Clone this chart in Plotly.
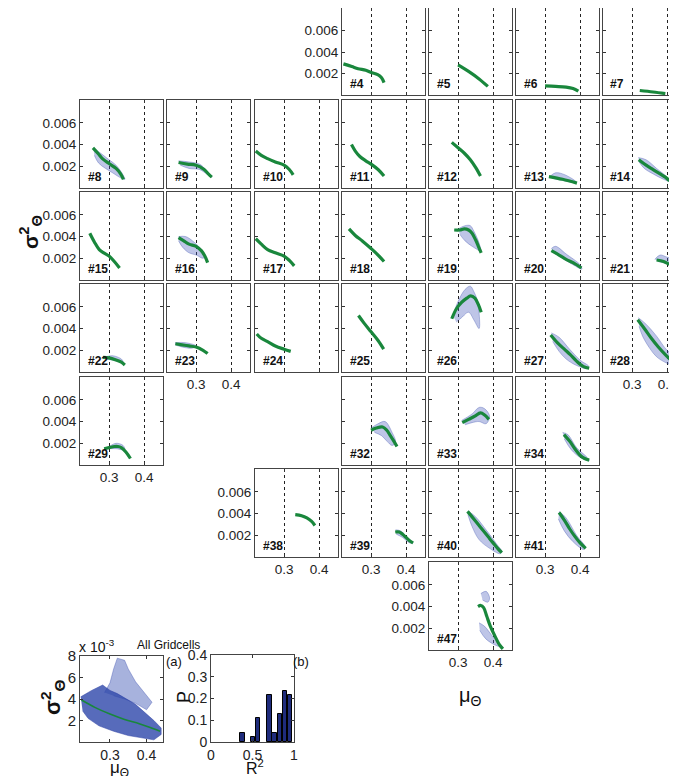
import plotly.graph_objects as go

W, H = 677, 776
OFF = 8                      # page body margin of the html page
FW, FH = W - OFF, H - OFF    # figure size so that it ends at the window edge

# ---------------- data ----------------
# fitted curves: mean (mu) and variance (var) per grid cell
mu4 = [0.221, 0.245, 0.263, 0.285, 0.300, 0.319, 0.330, 0.337]
var4 = [0.0029, 0.00265, 0.00245, 0.0023, 0.0021, 0.0019, 0.0016, 0.00115]
mu5 = [0.300, 0.330, 0.360, 0.385]
var5 = [0.0028, 0.0022, 0.0015, 0.0008]
mu6 = [0.300, 0.330, 0.360, 0.380, 0.395]
var6 = [0.00085, 0.0008, 0.00073, 0.0006, 0.00035]
mu7 = [0.322, 0.360, 0.395]
var7 = [0.00042, 0.00028, 0.00013]
mu8 = [0.254, 0.268, 0.281, 0.300, 0.320, 0.333, 0.341]
var8 = [0.0037, 0.0032, 0.0027, 0.00225, 0.0018, 0.0013, 0.0008]
mu9 = [0.250, 0.275, 0.300, 0.323, 0.335, 0.345]
var9 = [0.00235, 0.0022, 0.0021, 0.0017, 0.0013, 0.001]
mu10 = [0.219, 0.235, 0.253, 0.275, 0.300, 0.315, 0.326]
var10 = [0.0034, 0.003, 0.0027, 0.0024, 0.0021, 0.0017, 0.0012]
mu11 = [0.244, 0.255, 0.268, 0.285, 0.300, 0.320, 0.337]
var11 = [0.004, 0.0034, 0.0029, 0.0025, 0.0022, 0.0017, 0.0011]
mu12 = [0.282, 0.300, 0.318, 0.335, 0.350, 0.364]
var12 = [0.0042, 0.0037, 0.0032, 0.0026, 0.0019, 0.0011]
mu13 = [0.311, 0.350, 0.391]
var13 = [0.00105, 0.0008, 0.00045]
mu14 = [0.319, 0.340, 0.360, 0.380, 0.395, 0.407]
var14 = [0.0026, 0.0021, 0.0017, 0.0013, 0.001, 0.00067]
mu15 = [0.245, 0.258, 0.272, 0.285, 0.300, 0.315, 0.330]
var15 = [0.0043, 0.0035, 0.0028, 0.0025, 0.0022, 0.0017, 0.0011]
mu16 = [0.250, 0.265, 0.280, 0.300, 0.315, 0.325, 0.333]
var16 = [0.0039, 0.0036, 0.0033, 0.0031, 0.0027, 0.0022, 0.0016]
mu17 = [0.219, 0.235, 0.253, 0.275, 0.300, 0.315, 0.329]
var17 = [0.0038, 0.0033, 0.0028, 0.0025, 0.0022, 0.0018, 0.0013]
mu18 = [0.237, 0.255, 0.275, 0.300, 0.320, 0.337]
var18 = [0.0047, 0.0041, 0.0036, 0.0029, 0.0023, 0.0017]
mu19 = [0.289, 0.305, 0.318, 0.330, 0.340, 0.350, 0.358, 0.366]
var19 = [0.0046, 0.0046, 0.0047, 0.0046, 0.0043, 0.0037, 0.0031, 0.0025]
mu20 = [0.318, 0.340, 0.360, 0.380, 0.404]
var20 = [0.0027, 0.0023, 0.0019, 0.0016, 0.0011]
mu21 = [0.370, 0.390, 0.410, 0.435]
var21 = [0.00184, 0.0017, 0.0014, 0.0011]
mu22 = [0.283, 0.300, 0.320, 0.335, 0.345]
var22 = [0.00135, 0.0013, 0.0011, 0.0009, 0.00065]
mu23 = [0.241, 0.260, 0.280, 0.300, 0.320, 0.333]
var23 = [0.0026, 0.0025, 0.0024, 0.0023, 0.0020, 0.0017]
mu24 = [0.222, 0.235, 0.253, 0.275, 0.300, 0.319]
var24 = [0.0035, 0.0031, 0.0028, 0.0024, 0.0021, 0.0019]
mu25 = [0.264, 0.280, 0.300, 0.320, 0.336]
var25 = [0.0052, 0.0045, 0.0037, 0.0029, 0.0021]
mu26 = [0.282, 0.295, 0.310, 0.325, 0.336, 0.348, 0.358, 0.366]
var26 = [0.0049, 0.0058, 0.0064, 0.0068, 0.0070, 0.0068, 0.0062, 0.0055]
mu27 = [0.316, 0.335, 0.355, 0.372, 0.390, 0.410, 0.426]
var27 = [0.0034, 0.0027, 0.0021, 0.0016, 0.0010, 0.0005, 0.00035]
mu28 = [0.316, 0.335, 0.355, 0.375, 0.395, 0.415, 0.435]
var28 = [0.0048, 0.0040, 0.0031, 0.0023, 0.0016, 0.0010, 0.0006]
mu29 = [0.286, 0.300, 0.315, 0.325, 0.335, 0.348, 0.361]
var29 = [0.0015, 0.0016, 0.0017, 0.0017, 0.0016, 0.0012, 0.0006]
mu32 = [0.300, 0.315, 0.333, 0.345, 0.355, 0.365, 0.374]
var32 = [0.0032, 0.0034, 0.0035, 0.0032, 0.0027, 0.0022, 0.0017]
mu33 = [0.312, 0.330, 0.348, 0.364, 0.376, 0.388]
var33 = [0.0039, 0.0042, 0.0045, 0.0048, 0.0046, 0.0042]
mu34 = [0.354, 0.370, 0.385, 0.400, 0.413, 0.426]
var34 = [0.0028, 0.0022, 0.0015, 0.0009, 0.0006, 0.00045]
mu38 = [0.332, 0.350, 0.365, 0.378, 0.388]
var38 = [0.0039, 0.0038, 0.0036, 0.0033, 0.0029]
mu39 = [0.369, 0.380, 0.390, 0.400, 0.410, 0.420]
var39 = [0.0023, 0.0023, 0.0021, 0.0018, 0.0015, 0.0013]
mu40 = [0.327, 0.345, 0.365, 0.385, 0.400, 0.413, 0.425]
var40 = [0.0042, 0.0035, 0.0027, 0.0019, 0.0013, 0.0008, 0.0004]
mu41 = [0.340, 0.355, 0.370, 0.385, 0.400, 0.416]
var41 = [0.0041, 0.0034, 0.0026, 0.0019, 0.0013, 0.0008]
mu47 = [0.357, 0.365, 0.373, 0.382, 0.392, 0.405, 0.418, 0.428]
var47 = [0.0040, 0.0041, 0.0039, 0.0031, 0.0022, 0.0013, 0.0005, 0.0001]

# outlines of the sample clouds (mu, var)
cmu8 = [0.255, 0.28, 0.30, 0.32, 0.34, 0.345, 0.335, 0.31, 0.29, 0.27, 0.258]
cvar8 = [0.0037, 0.0031, 0.0026, 0.0021, 0.0012, 0.0008, 0.0009, 0.0014, 0.0018, 0.0023, 0.0030]
cmu9 = [0.25, 0.28, 0.31, 0.33, 0.345, 0.33, 0.31, 0.28, 0.255]
cvar9 = [0.0025, 0.0024, 0.0022, 0.0016, 0.001, 0.0013, 0.0017, 0.0018, 0.0021]
cmu13 = [0.315, 0.33, 0.35, 0.38, 0.39, 0.35, 0.32]
cvar13 = [0.0011, 0.0014, 0.0013, 0.0008, 0.0005, 0.0007, 0.0009]
cmu14 = [0.318, 0.34, 0.37, 0.40, 0.408, 0.39, 0.36, 0.335, 0.32]
cvar14 = [0.0028, 0.0026, 0.0018, 0.0010, 0.0006, 0.0008, 0.0013, 0.0018, 0.0024]
cmu16 = [0.25, 0.27, 0.29, 0.31, 0.325, 0.32, 0.30, 0.28, 0.262, 0.25]
cvar16 = [0.0040, 0.0040, 0.0036, 0.0030, 0.0022, 0.0020, 0.0023, 0.0025, 0.0030, 0.0036]
cmu19 = [0.30, 0.32, 0.335, 0.345, 0.36, 0.365, 0.355, 0.34, 0.32, 0.305]
cvar19 = [0.0047, 0.0050, 0.0050, 0.0045, 0.0034, 0.0026, 0.0028, 0.0031, 0.0036, 0.0042]
cmu20 = [0.318, 0.33, 0.36, 0.40, 0.405, 0.38, 0.35, 0.325]
cvar20 = [0.0029, 0.0031, 0.0024, 0.0014, 0.0010, 0.0014, 0.0020, 0.0025]
cmu21 = [0.365, 0.38, 0.40, 0.435, 0.435, 0.40, 0.375]
cvar21 = [0.0019, 0.0023, 0.0021, 0.0018, 0.0012, 0.0015, 0.0017]
cmu22 = [0.29, 0.31, 0.335, 0.34, 0.31, 0.29]
cvar22 = [0.0014, 0.0015, 0.0012, 0.0009, 0.0011, 0.0012]
cmu23 = [0.24, 0.27, 0.30, 0.29, 0.26, 0.24]
cvar23 = [0.0027, 0.0027, 0.0024, 0.0022, 0.0023, 0.0025]
cmu26 = [0.285, 0.30, 0.32, 0.335, 0.345, 0.355, 0.36, 0.36, 0.345, 0.33, 0.31, 0.295]
cvar26 = [0.0052, 0.0065, 0.0076, 0.0079, 0.0074, 0.0066, 0.0055, 0.0040, 0.0048, 0.0055, 0.0050, 0.0046]
cmu27 = [0.318, 0.34, 0.37, 0.40, 0.425, 0.42, 0.39, 0.36, 0.34, 0.322]
cvar27 = [0.0036, 0.0032, 0.0021, 0.0011, 0.0005, 0.0003, 0.0006, 0.0012, 0.0019, 0.0028]
cmu28 = [0.318, 0.34, 0.37, 0.40, 0.435, 0.435, 0.40, 0.37, 0.35, 0.33, 0.32]
cvar28 = [0.0050, 0.0044, 0.0033, 0.0020, 0.0012, 0.0004, 0.0008, 0.0014, 0.0022, 0.0033, 0.0042]
cmu29 = [0.30, 0.32, 0.34, 0.345, 0.32, 0.30]
cvar29 = [0.0017, 0.0020, 0.0018, 0.0014, 0.0015, 0.0015]
cmu32 = [0.30, 0.32, 0.34, 0.36, 0.37, 0.36, 0.345, 0.33, 0.31]
cvar32 = [0.0034, 0.0038, 0.0040, 0.0030, 0.0021, 0.0018, 0.0022, 0.0027, 0.0030]
cmu33 = [0.31, 0.34, 0.36, 0.375, 0.39, 0.38, 0.36, 0.34, 0.32]
cvar33 = [0.0041, 0.0047, 0.0053, 0.0052, 0.0045, 0.0038, 0.0040, 0.0039, 0.0037]
cmu34 = [0.35, 0.365, 0.39, 0.42, 0.426, 0.40, 0.375, 0.355]
cvar34 = [0.0030, 0.0028, 0.0016, 0.0007, 0.0004, 0.0007, 0.0014, 0.0024]
cmu39 = [0.37, 0.385, 0.40, 0.42, 0.41, 0.39, 0.372]
cvar39 = [0.0025, 0.0024, 0.0019, 0.0013, 0.0013, 0.0018, 0.0021]
cmu40 = [0.33, 0.35, 0.38, 0.41, 0.425, 0.42, 0.39, 0.36, 0.34, 0.328]
cvar40 = [0.0042, 0.0037, 0.0025, 0.0012, 0.0005, 0.0003, 0.0008, 0.0016, 0.0028, 0.0039]
cmu41 = [0.34, 0.36, 0.39, 0.415, 0.41, 0.38, 0.355, 0.338]
cvar41 = [0.0042, 0.0036, 0.0020, 0.0009, 0.0007, 0.0014, 0.0024, 0.0035]
cmu47a = [0.365, 0.38, 0.39, 0.385, 0.37]
cvar47a = [0.0052, 0.0054, 0.0048, 0.0044, 0.0046]
cmu47b = [0.36, 0.375, 0.40, 0.425, 0.41, 0.38, 0.362]
cvar47b = [0.0025, 0.0022, 0.0012, 0.0003, 0.0004, 0.0010, 0.0018]

# panel (a): all grid cells (variance in units of 1e-3)
all_fit_mu = [0.222, 0.26, 0.30, 0.34, 0.38, 0.41, 0.437]
all_fit_var = [3.9, 3.2, 2.6, 2.1, 1.7, 1.35, 1.0]
all_low_mu = [0.220, 0.250, 0.280, 0.300, 0.320, 0.345, 0.370, 0.400, 0.420, 0.440,
              0.440, 0.420, 0.390, 0.350, 0.310, 0.270, 0.240, 0.225]
all_low_var = [4.2, 4.8, 5.3, 4.8, 4.5, 4.0, 3.5, 2.6, 2.0, 1.3,
               0.7, 0.2, 0.4, 0.6, 1.0, 1.5, 2.2, 2.9]
all_up_mu = [0.285, 0.300, 0.310, 0.320, 0.340, 0.350, 0.370, 0.390, 0.415, 0.400, 0.370, 0.340, 0.310]
all_up_var = [4.6, 5.5, 6.8, 7.8, 7.6, 6.8, 5.6, 4.8, 3.7, 3.0, 3.6, 4.0, 4.3]

# panel (b): histogram of R^2
r2_centers = [0.38, 0.505, 0.565, 0.705, 0.762, 0.83, 0.89, 0.95]
r2_prob = [0.043, 0.022, 0.109, 0.217, 0.043, 0.130, 0.235, 0.217]

# ---------------- layout helpers (window pixels) ----------------
COL_LEFT = [80, 167, 255, 342, 429, 516, 603]
ROW_TOP = [7, 100, 192, 284, 377, 469, 562]
PW, PH = 83, 88
X_RANGE = [0.217, 0.454]
Y_RANGE = [0, 0.0081]

def clamp(v):
    return max(0.0, min(1.0, v))

def px(x):
    return clamp((x - OFF) / FW)

def py(y):
    return clamp(1 - (y - OFF) / FH)

panels = [
    (4, 0, 3, mu4, var4, []), (5, 0, 4, mu5, var5, []), (6, 0, 5, mu6, var6, []), (7, 0, 6, mu7, var7, []),
    (8, 1, 0, mu8, var8, [(cmu8, cvar8)]), (9, 1, 1, mu9, var9, [(cmu9, cvar9)]),
    (10, 1, 2, mu10, var10, []), (11, 1, 3, mu11, var11, []), (12, 1, 4, mu12, var12, []),
    (13, 1, 5, mu13, var13, [(cmu13, cvar13)]), (14, 1, 6, mu14, var14, [(cmu14, cvar14)]),
    (15, 2, 0, mu15, var15, []), (16, 2, 1, mu16, var16, [(cmu16, cvar16)]),
    (17, 2, 2, mu17, var17, []), (18, 2, 3, mu18, var18, []),
    (19, 2, 4, mu19, var19, [(cmu19, cvar19)]), (20, 2, 5, mu20, var20, [(cmu20, cvar20)]),
    (21, 2, 6, mu21, var21, [(cmu21, cvar21)]),
    (22, 3, 0, mu22, var22, [(cmu22, cvar22)]), (23, 3, 1, mu23, var23, [(cmu23, cvar23)]),
    (24, 3, 2, mu24, var24, []), (25, 3, 3, mu25, var25, []),
    (26, 3, 4, mu26, var26, [(cmu26, cvar26)]), (27, 3, 5, mu27, var27, [(cmu27, cvar27)]),
    (28, 3, 6, mu28, var28, [(cmu28, cvar28)]),
    (29, 4, 0, mu29, var29, [(cmu29, cvar29)]), (32, 4, 3, mu32, var32, [(cmu32, cvar32)]),
    (33, 4, 4, mu33, var33, [(cmu33, cvar33)]), (34, 4, 5, mu34, var34, [(cmu34, cvar34)]),
    (38, 5, 2, mu38, var38, []), (39, 5, 3, mu39, var39, [(cmu39, cvar39)]),
    (40, 5, 4, mu40, var40, [(cmu40, cvar40)]), (41, 5, 5, mu41, var41, [(cmu41, cvar41)]),
    (47, 6, 4, mu47, var47, [(cmu47a, cvar47a), (cmu47b, cvar47b)]),
]
YLABEL_PANELS = {4, 8, 15, 22, 29, 38, 47}
XLABEL_PANELS = {23, 28, 29, 38, 39, 41, 47}

GREEN = "rgb(25,135,60)"
CLOUD_FILL = "rgba(70,90,185,0.35)"
CLOUD_LINE = "rgba(50,70,170,0.55)"
FONT = "Liberation Sans, Arial, sans-serif"

fig = go.Figure()
layout = {}
annotations = []

def ax_names(k):
    return ("x" if k == 1 else f"x{k}"), ("y" if k == 1 else f"y{k}")

def lay_names(k):
    return ("xaxis" if k == 1 else f"xaxis{k}"), ("yaxis" if k == 1 else f"yaxis{k}")

COMMON = dict(automargin=False, zeroline=False, showline=True, linecolor="#444", linewidth=1,
              ticks="inside", ticklen=3, tickcolor="#333")

for k, (num, r, c, mu, var, clouds) in enumerate(panels, start=1):
    xa, ya = ax_names(k)
    xl, yl = lay_names(k)
    left = COL_LEFT[c]
    top = ROW_TOP[r]
    right = min(left + PW, W)
    clipped = left + PW > W
    xr = list(X_RANGE)
    if clipped:
        xr[1] = X_RANGE[0] + (W - left) / PW * (X_RANGE[1] - X_RANGE[0])
    for cm, cv in clouds:
        fig.add_trace(go.Scatter(x=cm, y=cv, xaxis=xa, yaxis=ya, mode="lines",
                                 fill="toself", fillcolor=CLOUD_FILL,
                                 line=dict(color=CLOUD_LINE, width=0.6, shape="spline"),
                                 hoverinfo="skip", showlegend=False))
    fig.add_trace(go.Scatter(x=mu, y=var, xaxis=xa, yaxis=ya, mode="lines",
                             line=dict(color=GREEN, width=3.2, shape="spline"),
                             showlegend=False))
    layout[xl] = dict(COMMON, domain=[px(left), px(right)], range=xr, anchor=ya,
                      tickvals=[0.3, 0.4], ticktext=["0.3", "0.4"],
                      showticklabels=num in XLABEL_PANELS,
                      showgrid=True, gridcolor="#222", griddash="dot", gridwidth=1,
                      mirror="ticks",
                      tickfont=dict(size=13.5, color="#222", family=FONT))
    layout[yl] = dict(COMMON, domain=[py(top + PH), py(top)], range=Y_RANGE, anchor=xa,
                      tickvals=[0.002, 0.004, 0.006], ticktext=["0.002", "0.004", "0.006"],
                      showticklabels=num in YLABEL_PANELS, showgrid=False,
                      mirror=False if clipped else "ticks",
                      tickfont=dict(size=13.5, color="#222", family=FONT))
    annotations.append(dict(text=f"<b>#{num}</b>", xref=f"{xa} domain", yref=f"{ya} domain",
                            x=0.07, y=0.02, xanchor="left", yanchor="bottom", showarrow=False,
                            font=dict(size=12, color="#111", family=FONT)))

# ---------------- panel (a) ----------------
ka = len(panels) + 1
xa, ya = ax_names(ka)
xl, yl = lay_names(ka)
fig.add_trace(go.Scatter(x=all_up_mu, y=all_up_var, xaxis=xa, yaxis=ya, mode="lines", fill="toself",
                         fillcolor="rgba(60,85,180,0.45)", line=dict(color="rgba(50,70,170,0.6)", width=0.6),
                         hoverinfo="skip", showlegend=False))
fig.add_trace(go.Scatter(x=all_low_mu, y=all_low_var, xaxis=xa, yaxis=ya, mode="lines", fill="toself",
                         fillcolor="rgba(45,70,170,0.8)", line=dict(color="rgba(40,60,160,0.8)", width=0.6),
                         hoverinfo="skip", showlegend=False))
fig.add_trace(go.Scatter(x=all_fit_mu, y=all_fit_var, xaxis=xa, yaxis=ya, mode="lines",
                         line=dict(color=GREEN, width=1.6, shape="spline"), showlegend=False))
layout[xl] = dict(COMMON, domain=[px(80), px(163)], range=[0.218, 0.445], anchor=ya,
                  tickvals=[0.3, 0.4], ticktext=["0.3", "0.4"], showgrid=False, mirror="ticks",
                  tickfont=dict(size=14, color="#222", family=FONT))
layout[yl] = dict(COMMON, domain=[py(742), py(656)], range=[0, 8], anchor=xa,
                  tickvals=[2, 4, 6, 8], ticktext=["2", "4", "6", "8"], showgrid=False, mirror="ticks",
                  tickfont=dict(size=15, color="#222", family=FONT))

# ---------------- panel (b) ----------------
kb = ka + 1
xb, yb = ax_names(kb)
xlb, ylb = lay_names(kb)
fig.add_trace(go.Bar(x=r2_centers, y=r2_prob, xaxis=xb, yaxis=yb, width=0.055,
                     marker=dict(color="#1f2c7c", line=dict(color="#000", width=1)),
                     showlegend=False))
layout[xlb] = dict(COMMON, domain=[px(211), px(294)], range=[0, 1], anchor=yb,
                   tickvals=[0, 0.5, 1], ticktext=["0", "0.5", "1"], showgrid=False, mirror="ticks",
                   tickfont=dict(size=14, color="#222", family=FONT))
layout[ylb] = dict(COMMON, domain=[py(742), py(655)], range=[0, 0.4], anchor=xb,
                   tickvals=[0, 0.1, 0.2, 0.3, 0.4], ticktext=["0", "0.1", "0.2", "0.3", "0.4"],
                   showgrid=False, mirror="ticks",
                   tickfont=dict(size=14, color="#222", family=FONT))

# ---------------- titles / labels ----------------
def txt(text, x, y, size, angle=0, bold=False, yanchor="middle"):
    t = f"<b>{text}</b>" if bold else text
    annotations.append(dict(text=t, xref="paper", yref="paper", x=px(x), y=py(y),
                            xanchor="center", yanchor=yanchor, showarrow=False, textangle=angle,
                            borderpad=0, font=dict(size=size, color="#111", family=FONT)))

txt("σ<sup>2</sup><sub>Θ</sub>", 30, 232, 21, angle=-90, bold=True)
txt("μ<sub>Θ</sub>", 470, 696, 20)
txt("x 10<sup>-3</sup>", 97, 646, 14)
txt("All Gridcells", 168, 645, 12)
txt("(a)", 174, 661, 13)
txt("(b)", 301, 661, 13)
txt("σ<sup>2</sup><sub>Θ</sub>", 52, 697, 22, angle=-90, bold=True)
txt("μ<sub>Θ</sub>", 119, 757, 17, yanchor="top")
txt("P", 184, 697, 18, angle=-90)
txt("R<sup>2</sup>", 255, 756, 16, yanchor="top")

fig.update_layout(template="none", width=FW, height=FH, margin=dict(l=0, r=0, t=0, b=0, pad=0),
                  plot_bgcolor="white", paper_bgcolor="white", showlegend=False,
                  annotations=annotations, bargap=0, font=dict(family=FONT), **layout)

fig.write_html("out.html")
